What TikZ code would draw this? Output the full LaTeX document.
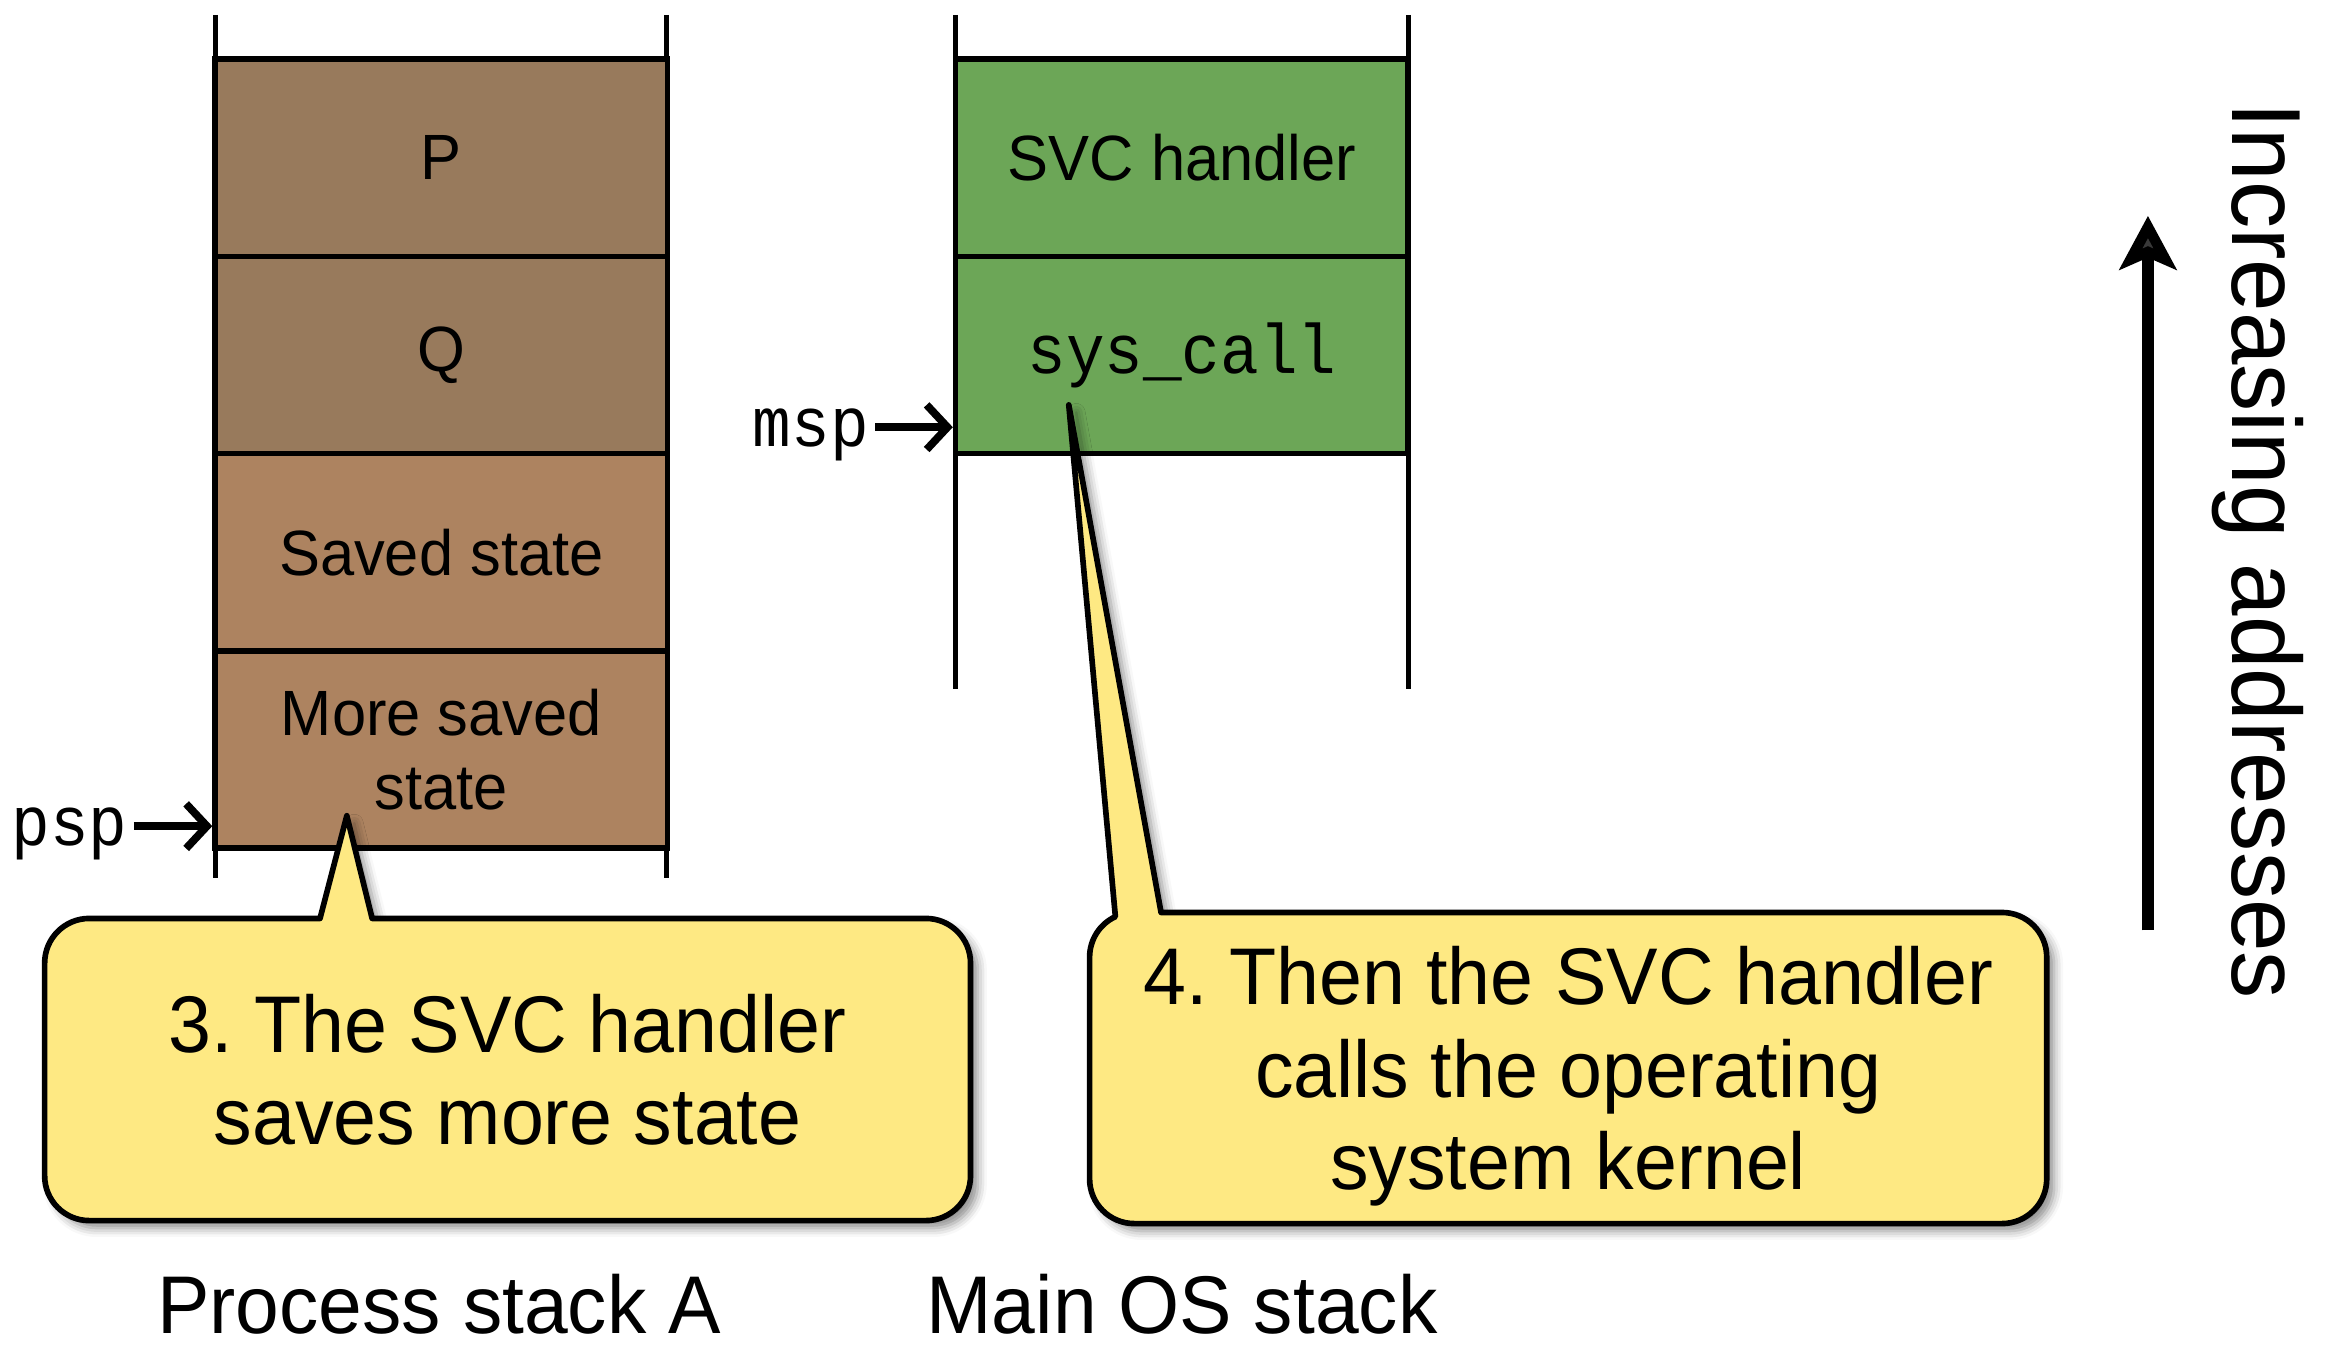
\documentclass[tikz,border=0pt]{standalone}
\usepackage{fontspec}
\setmainfont{Liberation Sans}[FakeStretch=0.96]
\setmonofont{Liberation Mono}[FakeStretch=0.92]
\usetikzlibrary{arrows.meta,shadows.blur}
\frenchspacing

\definecolor{cellDark}{HTML}{987A5C}
\definecolor{cellLight}{HTML}{AD8360}
\definecolor{cellGreen}{HTML}{6CA657}
\definecolor{noteYellow}{HTML}{FEE983}

\tikzset{
  rail/.style={line width=1.6pt},
  cell/.style={draw, line width=1.9pt, minimum width=152pt, minimum height=66.25pt,
    inner sep=0pt, align=center, font=\fontsize{21.5}{25}\selectfont},
  monotext/.style={font=\ttfamily\fontsize{23.5}{26}\selectfont},
  ptrlabel/.style={monotext, inner sep=0pt, anchor=mid east},
  ptrarrow/.style={line width=2.6pt, -{Straight Barb[length=7pt,width=15pt]}},
  note/.style={draw, line width=1.9pt, fill=noteYellow, line join=round,
    blur shadow={shadow xshift=2.5pt, shadow yshift=-2.5pt,
      shadow blur radius=3pt, shadow opacity=45}},
  notetext/.style={align=center, font=\fontsize{27}{31}\selectfont,
    text depth=0pt, inner sep=0pt},
  caption/.style={font=\fontsize{27.5}{32}\selectfont, anchor=base, inner sep=0pt},
  axisarrow/.style={line width=4pt, -{Stealth[length=18pt,width=19pt,inset=4pt]}},
}

\begin{document}
\begin{tikzpicture}[x=0.5pt, y=0.5pt]
\useasboundingbox (0,0) rectangle (1568,-905);

% stack rails
\draw[rail] (145,-10) -- (145,-590);
\draw[rail] (448,-10) -- (448,-590);
\draw[rail] (642,-10) -- (642,-463);
\draw[rail] (946,-10) -- (946,-463);

% process stack A
\node[cell, fill=cellDark]  (p)     at (296.5,-106)   {P};
\node[cell, fill=cellDark]  (q)     at (296.5,-238.5) {Q};
\node[cell, fill=cellLight] (saved) at (296.5,-371)   {Saved state};
\node[cell, fill=cellLight] (more)  at (296.5,-503.5) {More saved\\state};

% main OS stack
\node[cell, fill=cellGreen] (svc) at (794,-106) {SVC handler};
\node[cell, fill=cellGreen, monotext] (sys) at (794,-238.5) {sys\_call};

% stack pointers
\node[ptrlabel] (psp) at (86,-563) {psp};
\coordinate (pspstart) at ([xshift=2pt,yshift=4pt]psp.mid east);
\draw[ptrarrow] (pspstart) -- (more.west |- pspstart);
\node[ptrlabel] (msp) at (584,-295) {msp};
\coordinate (mspstart) at ([xshift=2pt,yshift=4pt]msp.mid east);
\draw[ptrarrow] (mspstart) -- (sys.west |- mspstart);

% callout 3
\coordinate (tipA) at (233,-548);
\draw[note] (215,-617) -- (tipA) -- (250,-617) -- (622,-617)
  arc[start angle=90, end angle=0, radius=15pt] -- (652,-790)
  arc[start angle=0, end angle=-90, radius=15pt] -- (60,-820)
  arc[start angle=270, end angle=180, radius=15pt] -- (30,-647)
  arc[start angle=180, end angle=90, radius=15pt] -- cycle;
\node[notetext] (noteA) at (341,-718.5) {3. The SVC handler\\saves more state};

% callout 4
\coordinate (tipB) at (718,-272);
\draw[note] (tipB) -- (780,-613) -- (1345,-613)
  arc[start angle=90, end angle=0, radius=15pt] -- (1375,-792)
  arc[start angle=0, end angle=-90, radius=15pt] -- (762,-822)
  arc[start angle=270, end angle=180, radius=15pt] -- (732,-643)
  arc[start angle=180, end angle=115, radius=15pt] -- cycle;
\node[notetext] (noteB) at (1053.5,-717.5) {4. Then the SVC handler\\calls the operating\\system kernel};

% stack captions
\node[caption] (capA) at (295,-896) {Process stack A};
\node[caption] (capB) at (794,-896) {Main OS stack};

% address direction
\coordinate (axisfrom) at (1443,-625);
\coordinate (axisto) at (1443,-145);
\draw[axisarrow] (axisfrom) -- (axisto);
\node[rotate=-90, anchor=base, inner sep=0pt, font=\fontsize{33}{38}\selectfont]
  (axislabel) at (1500,-370) {Increasing addresses};
\end{tikzpicture}
\end{document}
